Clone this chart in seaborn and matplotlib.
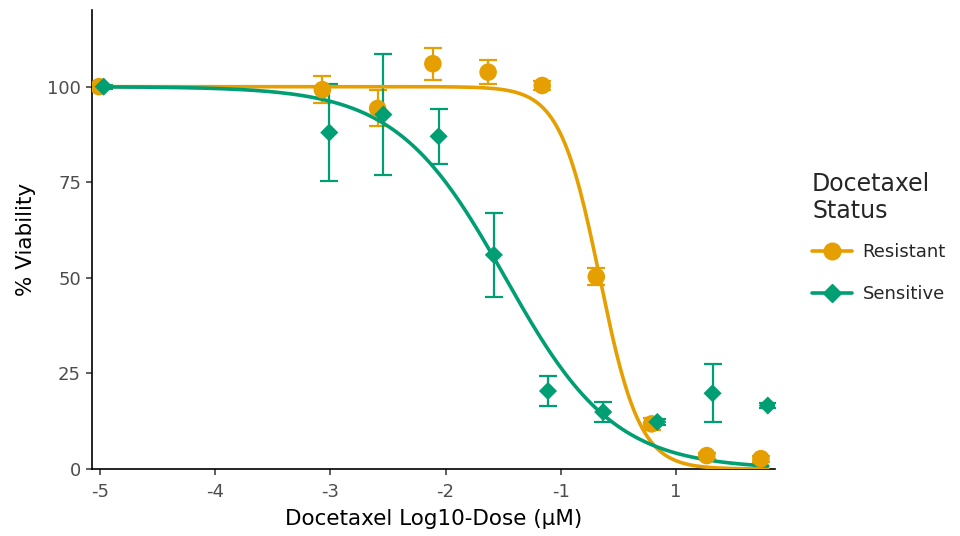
import numpy as np
import pandas as pd
import matplotlib
matplotlib.use("Agg")
import matplotlib.pyplot as plt
import seaborn as sns
from matplotlib.lines import Line2D

# ---- data ----
groups = ["Resistant", "Sensitive"]
colors = {"Resistant": "#E69F00", "Sensitive": "#009E73"}

res_x = [-5.01, -3.07, -2.59, -2.11, -1.63, -1.16, -0.69, -0.21, 0.27, 0.74]
res_y = [100.0, 99.2, 94.3, 106.0, 103.8, 100.3, 50.3, 11.8, 3.5, 2.7]
res_err = [0.8, 3.6, 4.7, 4.2, 3.2, 1.2, 2.2, 1.5, 0.8, 0.8]

sen_x = [-4.97, -3.01, -2.54, -2.06, -1.58, -1.11, -0.63, -0.16, 0.32, 0.80]
sen_y = [100.0, 88.0, 92.7, 87.0, 56.0, 20.4, 14.9, 12.3, 19.8, 16.6]
sen_err = [0.5, 12.8, 15.9, 7.2, 11.0, 4.0, 2.5, 0.9, 7.6, 0.6]

# fitted 4-parameter logistic parameters (top, bottom, logIC50, hill)
fit_top = {"Resistant": 100.0, "Sensitive": 100.0}
fit_bottom = {"Resistant": 0.0, "Sensitive": 0.0}
fit_ic50 = {"Resistant": -0.66, "Sensitive": -1.48}
fit_hill = {"Resistant": 2.5, "Sensitive": 0.92}

x_ticks = [-5, -4, -3, -2, -1, 0]
x_ticklabels = ["-5", "-4", "-3", "-2", "-1", "1"]
y_ticks = [0, 25, 50, 75, 100]

# ---- build frames ----
pts = pd.concat([
    pd.DataFrame({"dose": res_x, "viab": res_y, "err": res_err, "status": "Resistant"}),
    pd.DataFrame({"dose": sen_x, "viab": sen_y, "err": sen_err, "status": "Sensitive"}),
], ignore_index=True)

grid = np.linspace(-5.0, 0.8, 300)
curves = []
for g in groups:
    yv = fit_bottom[g] + (fit_top[g] - fit_bottom[g]) / (1 + 10 ** (fit_hill[g] * (grid - fit_ic50[g])))
    curves.append(pd.DataFrame({"dose": grid, "viab": yv, "status": g}))
curves = pd.concat(curves, ignore_index=True)

# ---- plot ----
sns.set_theme(style="ticks")
plt.rcParams["font.family"] = ["DejaVu Sans"]

fig = plt.figure(figsize=(9.6, 5.36), dpi=100)
ax = fig.add_axes([0.096, 0.125, 0.711, 0.856])

sns.lineplot(data=curves, x="dose", y="viab", hue="status", palette=colors,
             linewidth=2.6, legend=False, ax=ax, zorder=3)

for g in groups:
    d = pts[pts.status == g]
    ax.errorbar(d["dose"], d["viab"], yerr=d["err"], fmt="none",
                ecolor=colors[g], elinewidth=1.6, capsize=6.5, capthick=1.6, zorder=2)

markers = {"Resistant": "o", "Sensitive": "D"}
sizes = {"Resistant": 160, "Sensitive": 85}
for g in groups:
    d = pts[pts.status == g]
    sns.scatterplot(data=d, x="dose", y="viab", color=colors[g], marker=markers[g],
                    s=sizes[g], edgecolor="none", legend=False, ax=ax, zorder=4)

ax.set_xlim(-5.07, 0.86)
ax.set_ylim(0, 120)
ax.set_xticks(x_ticks)
ax.set_xticklabels(x_ticklabels)
ax.set_yticks(y_ticks)
ax.tick_params(axis="both", labelsize=13, labelcolor="#4D4D4D", color="#333333",
               length=4, width=1.1, pad=4)
ax.tick_params(axis="x", pad=6)
for s in ["top", "right"]:
    ax.spines[s].set_visible(False)
for s in ["left", "bottom"]:
    ax.spines[s].set_color("black")
    ax.spines[s].set_linewidth(1.2)

ax.set_xlabel("Docetaxel Log10-Dose (µM)", fontsize=15.5, color="black", labelpad=6)
ax.set_ylabel("% Viability", fontsize=15.5, color="black", labelpad=8)

handles = [Line2D([0], [0], color=colors[g], marker=markers[g], lw=2.6,
                  markersize=12 if g == "Resistant" else 9.5) for g in groups]
leg = fig.legend(handles, groups, title="Docetaxel\nStatus", loc="center left",
                 bbox_to_anchor=(0.829, 0.557), frameon=False, fontsize=13,
                 title_fontsize=17, handlelength=2.2, labelspacing=1.35,
                 handletextpad=0.6, alignment="left")
leg._legend_box.sep = 14

fig.savefig("out.png", dpi=100)
